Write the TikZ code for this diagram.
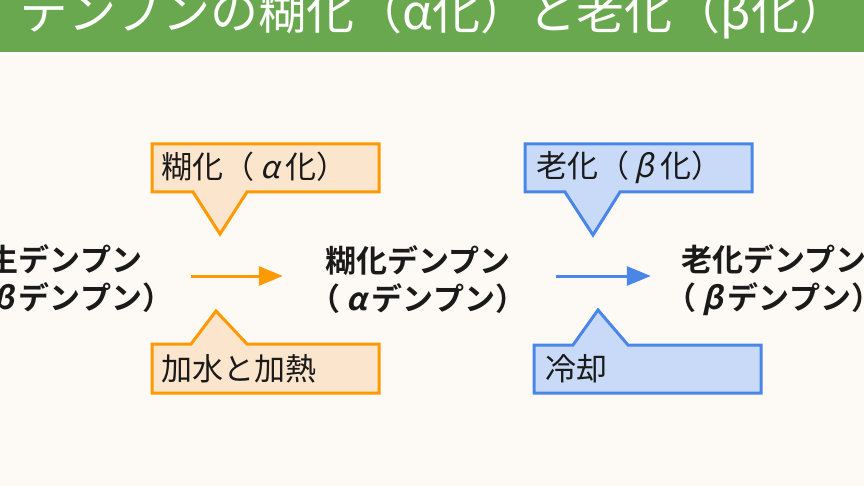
\documentclass[tikz,border=0pt]{standalone}
\usepackage{fontspec}
\setmainfont{Noto Sans CJK JP}[BoldFont={Noto Sans CJK JP Bold}]
\newfontfamily\slantgr{Noto Sans CJK JP}[FakeSlant=0.22,
    BoldFont={Noto Sans CJK JP Bold}, BoldFeatures={FakeSlant=0.22}]
\usetikzlibrary{arrows.meta}

\definecolor{barcol}{HTML}{6AA84F}
\definecolor{papercol}{HTML}{FDFAF6}
\definecolor{gelfill}{HTML}{FCE5CD}
\definecolor{gelline}{HTML}{FF9900}
\definecolor{agefill}{HTML}{C9DAF8}
\definecolor{ageline}{HTML}{4A86E8}
\definecolor{inkcol}{HTML}{1A1A1A}

\tikzset{
    starch/.style={inner sep=0pt, align=center, text=inkcol,
        font=\bfseries\fontsize{31}{38}\selectfont},
    bubtext/.style={inner sep=0pt, anchor=west, text=inkcol,
        font=\fontsize{31}{36}\selectfont},
    gelbub/.style={fill=gelfill, draw=gelline, line width=3pt, line join=miter},
    agebub/.style={fill=agefill, draw=ageline, line width=3pt, line join=miter},
    flow/.style={line width=3pt, -{Triangle[length=24pt,width=19pt]}},
}
\newcommand{\fw}[1]{\makebox[1em]{\slantgr #1}}

\begin{document}
\begin{tikzpicture}[x=1pt,y=-1pt]
    \useasboundingbox (0,0) rectangle (864,486);
    % background and title bar
    \fill[papercol] (0,0) rectangle (864,486);
    \fill[barcol] (0,0) rectangle (864,52);
    \fill[white] (0,52) rectangle (864,54);
    \node[anchor=base west, inner sep=0pt, text=white,
        font=\fontsize{48}{58}\selectfont] (title) at (20,30)
        {デンプンの糊化（α化）と老化（β化）};

    % starch states
    \node[starch] (raw) at (65,280) {生デンプン\\（\fw{β}デンプン）};
    \node[starch] (gel) at (418,280) {糊化デンプン\\（\fw{α}デンプン）};
    \node[starch] (aged) at (774,280) {老化デンプン\\（\fw{β}デンプン）};

    % steps
    \draw[flow, gelline, shorten <=18pt, shorten >=27pt]
        ([yshift=4pt]raw.east) -- ([yshift=4pt]gel.west);
    \draw[flow, ageline, shorten <=30pt, shorten >=15pt]
        ([yshift=4pt]gel.east) -- ([yshift=4pt]aged.west);

    % gelatinisation notes
    \filldraw[gelbub] (152,144) -- (379,144) -- (379,192) -- (247,192)
        -- (220,234) -- (193,192) -- (152,192) -- cycle;
    \node[bubtext] (gelname) at (161,167) {糊化（\fw{α}化）};
    \filldraw[gelbub] (152,344) -- (191,344) -- (216,311) -- (247,344)
        -- (379,344) -- (379,393) -- (152,393) -- cycle;
    \node[bubtext] (gelhow) at (161,369) {加水と加熱};

    % retrogradation notes
    \filldraw[agebub] (525,144) -- (752,144) -- (752,192) -- (620,192)
        -- (593,235) -- (565,192) -- (525,192) -- cycle;
    \node[bubtext] (agename) at (536,167) {老化（\fw{β}化）};
    \filldraw[agebub] (534,345) -- (573,345) -- (598,310) -- (628,345)
        -- (761,345) -- (761,393) -- (534,393) -- cycle;
    \node[bubtext] (agehow) at (545,369) {冷却};
\end{tikzpicture}
\end{document}
